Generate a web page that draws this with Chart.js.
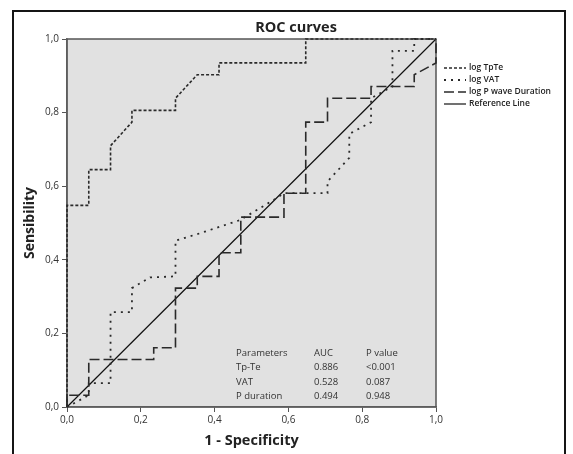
<!DOCTYPE html>
<html><head><meta charset="utf-8">
<script src="https://cdn.jsdelivr.net/npm/chart.js@4/dist/chart.umd.min.js"></script>
<style>html,body{margin:0;padding:0;background:#fff;}</style>
</head><body>
<canvas id="c" width="573" height="454"></canvas>
<script>
const chartTitle = 'ROC curves';
const xTitle = '1 - Specificity';
const yTitle = 'Sensibility';
const seriesNames = ['log TpTe', 'log VAT', 'log P wave Duration', 'Reference Line'];
const tickValues = [0, 0.2, 0.4, 0.6, 0.8, 1.0];

const tpteFpr = [0, 0, 0.059, 0.059, 0.118, 0.118, 0.176, 0.176, 0.294, 0.294, 0.353, 0.412, 0.412, 0.647, 0.647, 1];
const tpteTpr = [0, 0.548, 0.548, 0.645, 0.645, 0.71, 0.774, 0.806, 0.806, 0.839, 0.903, 0.903, 0.935, 0.935, 1, 1];

const vatFpr = [0, 0.059, 0.059, 0.118, 0.118, 0.176, 0.176, 0.225, 0.294, 0.294, 0.36, 0.469, 0.559, 0.588, 0.706, 0.706, 0.765, 0.765, 0.824, 0.824, 0.882, 0.882, 0.941, 0.941, 1];
const vatTpr = [0, 0.032, 0.065, 0.065, 0.258, 0.258, 0.323, 0.352, 0.355, 0.452, 0.472, 0.508, 0.562, 0.581, 0.581, 0.613, 0.677, 0.742, 0.774, 0.839, 0.871, 0.968, 0.968, 1, 1];

const pdurFpr = [0, 0, 0.059, 0.059, 0.235, 0.235, 0.294, 0.294, 0.353, 0.353, 0.412, 0.412, 0.471, 0.471, 0.588, 0.588, 0.647, 0.647, 0.706, 0.706, 0.824, 0.824, 0.941, 0.941, 1, 1];
const pdurTpr = [0, 0.032, 0.032, 0.129, 0.129, 0.161, 0.161, 0.323, 0.323, 0.355, 0.355, 0.419, 0.419, 0.516, 0.516, 0.581, 0.581, 0.774, 0.774, 0.839, 0.839, 0.871, 0.871, 0.903, 0.935, 1];

const refFpr = [0, 1];
const refTpr = [0, 1];

const tableHeader = ['Parameters', 'AUC', 'P value'];
const tableParams = ['Tp-Te', 'VAT', 'P duration'];
const tableAuc = ['0.886', '0.528', '0.494'];
const tablePval = ['<0.001', '0.087', '0.948'];

const FONT = "'Open Sans', 'DejaVu Sans', sans-serif";
const toPts = (xs, ys) => xs.map((x, i) => ({x: x, y: ys[i]}));

const decor = {
  id: 'decor',
  beforeDraw(chart) {
    const {ctx, chartArea: a} = chart;
    ctx.save();
    ctx.fillStyle = '#fff';
    ctx.fillRect(0, 0, chart.width, chart.height);
    ctx.fillStyle = '#e1e1e1';
    ctx.fillRect(a.left, a.top, a.right - a.left, a.bottom - a.top);
    ctx.restore();
  },
  beforeDatasetsDraw(chart) {
    const {ctx, chartArea: a} = chart;
    ctx.save();
    ctx.strokeStyle = '#555';
    ctx.lineWidth = 1.5;
    ctx.strokeRect(a.left, a.top, a.right - a.left, a.bottom - a.top);
    ctx.restore();
  },
  afterDraw(chart) {
    const {ctx} = chart;
    ctx.save();
    ctx.strokeStyle = '#151515';
    ctx.lineWidth = 2;
    ctx.beginPath();
    ctx.moveTo(13, 460); ctx.lineTo(13, 11); ctx.lineTo(565, 11); ctx.lineTo(565, 460);
    ctx.stroke();
    ctx.fillStyle = '#222';
    ctx.font = 'bold 14.5px ' + FONT;
    ctx.textAlign = 'center';
    ctx.textBaseline = 'middle';
    ctx.fillText(chartTitle, 296, 28);
    ctx.textAlign = 'left';
    ctx.font = '600 8.5px ' + FONT;
    chart.data.datasets.forEach((ds, i) => {
      const y = 68 + i * 12;
      ctx.strokeStyle = ds.borderColor;
      ctx.lineWidth = ds.borderWidth;
      ctx.setLineDash(ds.borderDash || []);
      ctx.beginPath();
      ctx.moveTo(444, y); ctx.lineTo(466, y);
      ctx.stroke();
      ctx.setLineDash([]);
      ctx.fillStyle = '#222';
      ctx.fillText(ds.label, 469, y);
    });
    ctx.font = '9.5px ' + FONT;
    ctx.fillStyle = '#333';
    const cols = [236, 314, 366];
    const rowsY = [353, 367, 382, 396];
    tableHeader.forEach((t, j) => ctx.fillText(t, cols[j], rowsY[0]));
    for (let r = 0; r < tableParams.length; r++) {
      ctx.fillText(tableParams[r], cols[0], rowsY[r + 1]);
      ctx.fillText(tableAuc[r], cols[1], rowsY[r + 1]);
      ctx.fillText(tablePval[r], cols[2], rowsY[r + 1]);
    }
    ctx.restore();
  }
};

const lineCol = '#2a2a2a';
new Chart(document.getElementById('c'), {
  type: 'scatter',
  data: {
    datasets: [
      {label: seriesNames[0], data: toPts(tpteFpr, tpteTpr), showLine: true, borderColor: lineCol, borderWidth: 1.6, borderDash: [3, 2], pointRadius: 0, tension: 0, clip: 4},
      {label: seriesNames[1], data: toPts(vatFpr, vatTpr), showLine: true, borderColor: lineCol, borderWidth: 1.8, borderDash: [2, 5], pointRadius: 0, tension: 0, clip: 4},
      {label: seriesNames[2], data: toPts(pdurFpr, pdurTpr), showLine: true, borderColor: lineCol, borderWidth: 1.6, borderDash: [10, 4], pointRadius: 0, tension: 0, clip: 4},
      {label: seriesNames[3], data: toPts(refFpr, refTpr), showLine: true, borderColor: '#111', borderWidth: 1.2, pointRadius: 0, tension: 0, clip: 4}
    ]
  },
  options: {
    responsive: false,
    animation: false,
    devicePixelRatio: 1,
    layout: {padding: {left: 0, right: 137, top: 39, bottom: 0}},
    plugins: {legend: {display: false}, tooltip: {enabled: false}, title: {display: false}},
    scales: {
      x: {
        type: 'linear', min: 0, max: 1,
        afterBuildTicks: s => { s.ticks = tickValues.map(v => ({value: v})); },
        ticks: {callback: v => v.toFixed(1).replace('.', ','), font: {family: FONT, size: 10}, color: '#333', padding: 2, maxRotation: 0},
        grid: {drawOnChartArea: false, drawTicks: true, tickLength: 5, color: '#555'},
        border: {display: true, color: '#777', width: 1.5},
        title: {display: true, text: xTitle, font: {family: FONT, size: 14.5, weight: 'bold'}, color: '#222', padding: {top: 0, bottom: 4}},
        afterFit: s => { s.height = 47; }
      },
      y: {
        type: 'linear', min: 0, max: 1,
        afterBuildTicks: s => { s.ticks = tickValues.map(v => ({value: v})); },
        ticks: {callback: v => v.toFixed(1).replace('.', ','), font: {family: FONT, size: 10}, color: '#333', padding: 3},
        grid: {drawOnChartArea: false, drawTicks: true, tickLength: 5, color: '#555'},
        border: {display: true, color: '#777', width: 1.5},
        title: {display: true, text: yTitle, font: {family: FONT, size: 14, weight: 'bold'}, color: '#222', padding: {top: 22, bottom: 0}},
        afterFit: s => { s.width = 67; }
      }
    }
  },
  plugins: [decor]
});
</script>
</body></html>
